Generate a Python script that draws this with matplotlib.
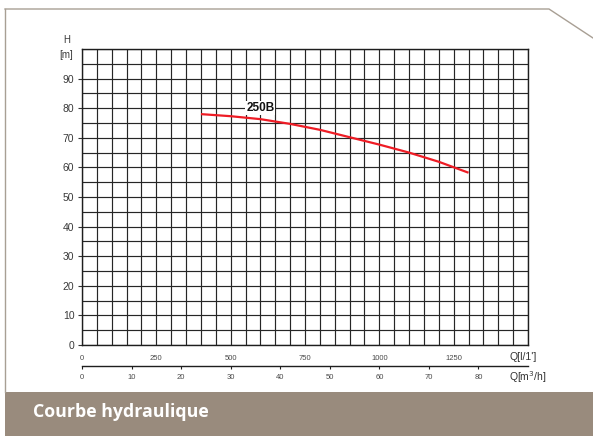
import matplotlib
matplotlib.use("Agg")
import matplotlib.pyplot as plt
from matplotlib.lines import Line2D
from matplotlib.patches import Rectangle
import numpy as np

# Data
q_lmin = [400, 500, 600, 700, 800, 900, 1000, 1100, 1200, 1300]
h_m = [78.0, 77.3, 76.3, 74.7, 72.7, 70.2, 67.7, 65.0, 61.9, 58.2]
curve_label = "250B"
y_ticks = [0, 10, 20, 30, 40, 50, 60, 70, 80, 90]
x_ticks_lmin = [0, 250, 500, 750, 1000, 1250]
x_ticks_m3h = [0, 10, 20, 30, 40, 50, 60, 70, 80]
title = "Courbe hydraulique"

W, H = 593, 436
fig = plt.figure(figsize=(W / 100, H / 100), dpi=100)
fig.patch.set_facecolor("white")

def fx(px):
    return px / W

def fy(py):
    return 1 - py / H

# frame lines
frame_col = "#a89f94"
fig.add_artist(Line2D([fx(5), fx(549), fx(593)], [fy(9), fy(9), fy(38)],
                      transform=fig.transFigure, color=frame_col, lw=1.0))
fig.add_artist(Line2D([fx(5), fx(5)], [fy(9), fy(392)],
                      transform=fig.transFigure, color=frame_col, lw=1.0))
# bottom band
fig.add_artist(Rectangle((fx(5), 0), 1 - fx(5), fy(392), transform=fig.transFigure,
                         facecolor="#998b7d", edgecolor="none"))
fig.text(fx(33), fy(417), title, color="white", fontsize=12.8, fontweight="bold",
         family="Open Sans", va="baseline", ha="left")

# main axes
left, right, top, bottom = 82, 528, 49, 345
ax = fig.add_axes([fx(left), fy(bottom), (right - left) / W, (bottom - top) / H])
ax.set_xlim(0, 1500)
ax.set_ylim(0, 100)
for xv in np.arange(0, 1501, 50):
    ax.axvline(xv, color="#262626", lw=0.85, zorder=1)
for yv in np.arange(0, 101, 5):
    ax.axhline(yv, color="#262626", lw=0.85, zorder=1)
for s in ax.spines.values():
    s.set_color("#1e1e1e")
    s.set_linewidth(1.0)

ax.plot(q_lmin, h_m, color="#ee1c25", lw=1.6, zorder=3, solid_capstyle="butt")
ax.text(600, 80, curve_label, fontsize=8.5, fontweight="bold", family="Liberation Sans",
        ha="center", va="center", color="#111111", zorder=4,
        bbox=dict(facecolor="white", edgecolor="none", pad=0.6))

ax.set_yticks(y_ticks)
ax.set_yticklabels([str(v) for v in y_ticks])
ax.tick_params(axis="y", length=3, width=0.8, color="#333333", pad=2.5,
               labelsize=7.5, labelcolor="#3a3a3a")
for lab in ax.get_yticklabels():
    lab.set_family("Liberation Sans")
ax.set_xticks(x_ticks_lmin)
ax.set_xticklabels([str(v) for v in x_ticks_lmin])
ax.tick_params(axis="x", length=0, pad=7, labelsize=5.5, labelcolor="#4a4a4a")
for lab in ax.get_xticklabels():
    lab.set_family("Liberation Sans")

fig.text(fx(67), fy(40), "H", fontsize=7, family="Liberation Sans", color="#3a3a3a",
         ha="center", va="center")
fig.text(fx(66), fy(55), "[m]", fontsize=7, family="Liberation Sans", color="#3a3a3a",
         ha="center", va="center")
fig.text(fx(509), fy(357), "Q[l/1']", fontsize=7.5, family="Liberation Sans",
         color="#333333", ha="left", va="center")
fig.text(fx(509), fy(377), "Q[m$^3$/h]", fontsize=7.5, family="Liberation Sans",
         color="#333333", ha="left", va="center")

# secondary axis (m3/h)
ax2 = fig.add_axes([fx(left), fy(365.7), (right - left) / W, 0.0001])
ax2.set_xlim(0, 90)
ax2.set_ylim(0, 1)
for k in ["top", "left", "right"]:
    ax2.spines[k].set_visible(False)
ax2.spines["bottom"].set_color("#1e1e1e")
ax2.spines["bottom"].set_linewidth(1.0)
ax2.set_yticks([])
ax2.set_xticks(x_ticks_m3h)
ax2.set_xticklabels([str(v) for v in x_ticks_m3h])
ax2.tick_params(axis="x", length=2.5, width=0.8, color="#1e1e1e", pad=3.5,
                labelsize=5.5, labelcolor="#4a4a4a")
for lab in ax2.get_xticklabels():
    lab.set_family("Liberation Sans")
ax2.patch.set_visible(False)

fig.savefig("out.png", dpi=100)
